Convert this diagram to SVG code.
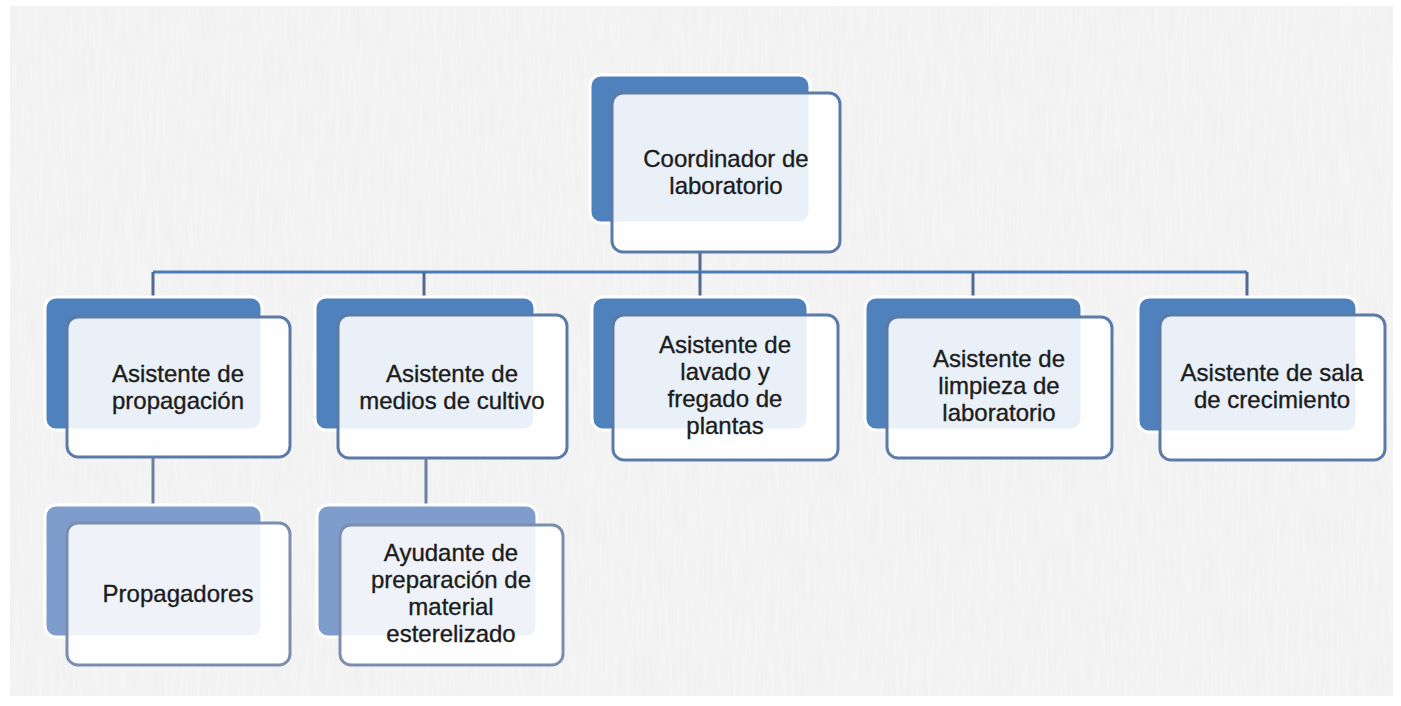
<svg xmlns="http://www.w3.org/2000/svg" width="1401" height="706" viewBox="0 0 1401 706">
<defs>
<filter id="tex" x="0" y="0" width="100%" height="100%">
<feTurbulence type="fractalNoise" baseFrequency="0.35 0.02" numOctaves="2" seed="3" result="n"/>
<feColorMatrix in="n" type="matrix" values="0 0 0 0 0.93  0 0 0 0 0.93  0 0 0 0 0.93  0 0 0 -1.2 0.9" result="c"/>
<feComposite in="c" in2="SourceGraphic" operator="over"/>
</filter>
<style>
.bg{fill:#f1f1f1}
.back{fill:#4f81bd;stroke:#ffffff;stroke-width:3}
.back3{fill:#7f9dcc;stroke:#ffffff;stroke-width:3}
.front{fill:#ffffff;fill-opacity:0.88;stroke:#5b7aa8;stroke-width:3}
.front3{fill:#ffffff;fill-opacity:0.88;stroke:#7b8eb0;stroke-width:3}
.t{font-family:"Liberation Sans",Arial,sans-serif;font-size:24px;fill:#1c1c1c;stroke:#1c1c1c;stroke-width:0.35;text-anchor:middle}
.hl{stroke:#4a7cba;stroke-width:3;fill:none}
.vl{stroke:#506a93;stroke-width:3;fill:none}
.vl3{stroke:#6d7f9f;stroke-width:3;fill:none}
</style>
</defs>
<rect x="0" y="0" width="1401" height="706" fill="#ffffff"/>
<rect x="10" y="6" width="1383" height="690" class="bg" filter="url(#tex)"/>
<g id="connectors">
<path class="vl" d="M700,252 V272"/>
<path class="hl" d="M153,272 H1247"/>
<path class="vl" d="M153,272 V297"/>
<path class="vl" d="M424,272 V297"/>
<path class="vl" d="M700,272 V297"/>
<path class="vl" d="M973,272 V297"/>
<path class="vl" d="M1247,272 V297"/>
<path class="vl3" d="M153,457 V505"/>
<path class="vl3" d="M426,458 V505"/>
</g>
<g id="n-coordinador">
<rect class="back" x="590" y="75" width="220" height="148" rx="11"/>
<rect class="front" x="612" y="93" width="228" height="159" rx="11"/>
<text class="t" x="726" y="167">Coordinador de</text>
<text class="t" x="726" y="194">laboratorio</text>
</g>
<g id="n-propagacion">
<rect class="back" x="45" y="297" width="217" height="133" rx="11"/>
<rect class="front" x="67" y="317" width="223" height="140" rx="11"/>
<text class="t" x="178" y="382">Asistente de</text>
<text class="t" x="178" y="409">propagación</text>
</g>
<g id="n-medios">
<rect class="back" x="315" y="297" width="220" height="133" rx="11"/>
<rect class="front" x="338" y="315" width="229" height="143" rx="11"/>
<text class="t" x="452" y="382">Asistente de</text>
<text class="t" x="452" y="409">medios de cultivo</text>
</g>
<g id="n-lavado">
<rect class="back" x="592" y="297" width="216" height="133" rx="11"/>
<rect class="front" x="613" y="315" width="225" height="145" rx="11"/>
<text class="t" x="725" y="353">Asistente de</text>
<text class="t" x="725" y="380">lavado y</text>
<text class="t" x="725" y="407">fregado de</text>
<text class="t" x="725" y="434">plantas</text>
</g>
<g id="n-limpieza">
<rect class="back" x="865" y="297" width="217" height="133" rx="11"/>
<rect class="front" x="887" y="317" width="225" height="141" rx="11"/>
<text class="t" x="999" y="367">Asistente de</text>
<text class="t" x="999" y="394">limpieza de</text>
<text class="t" x="999" y="421">laboratorio</text>
</g>
<g id="n-sala">
<rect class="back" x="1138" y="297" width="219" height="135" rx="11"/>
<rect class="front" x="1160" y="315" width="225" height="145" rx="11"/>
<text class="t" x="1272" y="381">Asistente de sala</text>
<text class="t" x="1272" y="408">de crecimiento</text>
</g>
<g id="n-propagadores">
<rect class="back3" x="45" y="505" width="217" height="132" rx="11"/>
<rect class="front3" x="67" y="523" width="223" height="142" rx="11"/>
<text class="t" x="178" y="602">Propagadores</text>
</g>
<g id="n-ayudante">
<rect class="back3" x="317" y="505" width="220" height="132" rx="11"/>
<rect class="front3" x="340" y="525" width="223" height="140" rx="11"/>
<text class="t" x="451" y="561">Ayudante de</text>
<text class="t" x="451" y="588">preparación de</text>
<text class="t" x="451" y="615">material</text>
<text class="t" x="451" y="642">esterelizado</text>
</g>
</svg>
